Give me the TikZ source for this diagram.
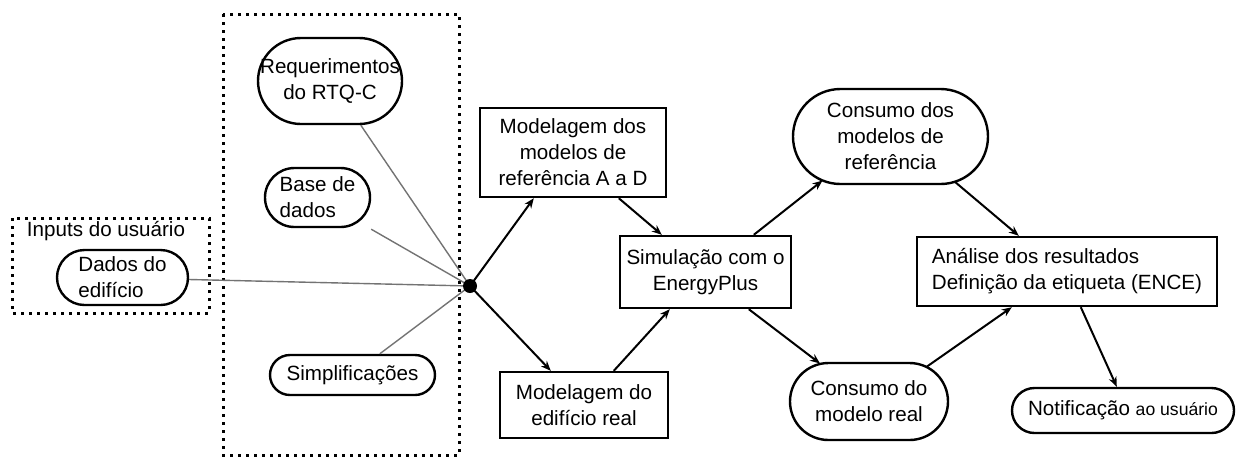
\documentclass[tikz,border=0pt]{standalone}
\usepackage{fontspec}
\setmainfont{Liberation Sans}
\usetikzlibrary{arrows.meta,calc}

\tikzset{
  base font/.style={font=\fontsize{10.3}{13}\selectfont},
  boxnode/.style={draw, line width=1.2pt, inner sep=0pt, align=center, base font},
  pill/.style={boxnode, rounded corners=#1},
  dotbox/.style={line width=1.5pt, dash pattern=on 1.5pt off 2.5pt},
  feed/.style={draw=black!55, line width=0.7pt},
  flow/.style={draw, line width=1pt, -{Stealth[length=5pt,width=4pt]}},
}

\begin{document}
\begin{tikzpicture}[x=0.5pt,y=-0.5pt]
\useasboundingbox (0,0) rectangle (1237,457);

% grouping frames
\draw[dotbox] (12,218) rectangle (209,313);
\draw[dotbox] (223,14) rectangle (459,455);
\node[base font] (inputs) at (106,231) {Inputs do usuário};

% inputs
\node[pill=13.75pt, minimum width=65.5pt, minimum height=27.5pt, align=left]
  (dados) at (122.5,277.5) {Dados do\\edifício};
\node[pill=21.5pt, minimum width=72pt, minimum height=43pt]
  (req) at (330,81) {Requerimentos\\do RTQ-C};
\node[pill=14.75pt, minimum width=52.5pt, minimum height=29.5pt, align=left]
  (base) at (317.5,197.5) {Base de\\dados};
\node[pill=10pt, minimum width=82.5pt, minimum height=20pt]
  (simp) at (352.5,375) {Simplificações};

% junction
\coordinate (dot) at (470,286);

% process
\node[boxnode, minimum width=93pt, minimum height=44.5pt]
  (mod1) at (573,152.5) {Modelagem dos\\modelos de\\referência A a D};
\node[boxnode, minimum width=84pt, minimum height=33pt]
  (mod2) at (584,405) {Modelagem do\\edifício real};
\node[boxnode, minimum width=85.5pt, minimum height=36pt]
  (sim) at (705.5,272) {Simulação com o\\EnergyPlus};
\node[pill=23.75pt, minimum width=97.5pt, minimum height=47.5pt]
  (cons1) at (890.5,136.5) {Consumo dos\\modelos de\\referência};
\node[pill=19.25pt, minimum width=79pt, minimum height=38.5pt]
  (cons2) at (869,401.5) {Consumo do\\modelo real};
\node[boxnode, minimum width=150pt, minimum height=34.5pt, align=left]
  (anal) at (1067,271.5) {Análise dos resultados\\Definição da etiqueta (ENCE)};
\node[pill=11.25pt, minimum width=111pt, minimum height=22.5pt]
  (notif) at (1123,410.5) {Notificação {\fontsize{8.8}{11}\selectfont ao usuário}};

% inputs feeding the junction
\draw[feed] ($(req.south west)+(104,0)$) -- (dot);
\draw[feed] ($(base.south east)+(0,1)$) -- (dot);
\draw[feed] ($(dados.east)+(0,2)$) -- (dot);
\draw[feed] ($(simp.north west)+(111,0)$) -- (dot);

% flow
\draw[flow] (dot) -- ($(mod1.south west)+(55,0)$);
\draw[flow] (dot) -- ($(mod2.north west)+(52,0)$);
\draw[flow] ($(mod1.south west)+(140,0)$) -- ($(sim.north west)+(43,0)$);
\draw[flow] ($(mod2.north west)+(115,0)$) -- ($(sim.south west)+(51,0)$);
\draw[flow] ($(sim.north west)+(135,0)$) -- ($(cons1)+(-68,44)$);
\draw[flow] ($(sim.south west)+(130,0)$) -- ($(cons2)+(-49,-38)$);
\draw[flow] ($(cons1)+(64,45)$) -- ($(anal.north west)+(103,0)$);
\draw[flow] ($(cons2)+(58,-35)$) -- ($(anal.south west)+(96,0)$);
\draw[flow] ($(anal.south west)+(165,0)$) -- ($(notif.north west)+(106,0)$);

% junction point drawn on top of the lines
\fill (dot) circle[radius=3.5pt];
\end{tikzpicture}
\end{document}
